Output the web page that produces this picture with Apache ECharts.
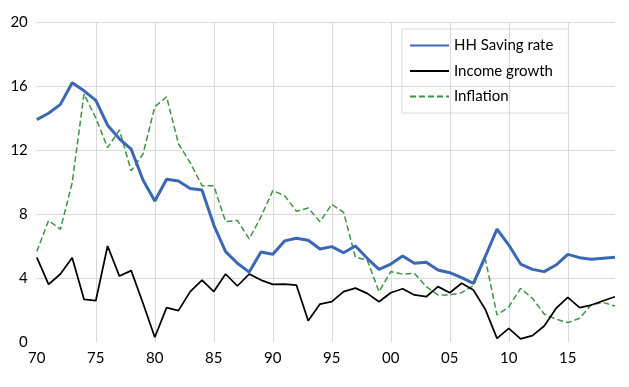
<!DOCTYPE html>
<html>
<head>
<meta charset="utf-8">
<script src="https://cdn.jsdelivr.net/npm/echarts@6/dist/echarts.min.js"></script>
<style>
html,body{margin:0;padding:0;background:#fff;}
#chart{width:629px;height:387px;}
</style>
</head>
<body>
<div id="chart"></div>
<script>
const years = [1970,1971,1972,1973,1974,1975,1976,1977,1978,1979,1980,1981,1982,1983,1984,1985,1986,1987,1988,1989,1990,1991,1992,1993,1994,1995,1996,1997,1998,1999,2000,2001,2002,2003,2004,2005,2006,2007,2008,2009,2010,2011,2012,2013,2014,2015,2016,2017,2018,2019];
const savingRate = [13.9,14.3,14.85,16.2,15.7,15.1,13.55,12.7,12.05,10.13,8.81,10.17,10.06,9.6,9.5,7.31,5.65,4.92,4.37,5.62,5.49,6.32,6.48,6.36,5.81,5.96,5.58,6.0,5.23,4.54,4.87,5.37,4.92,4.98,4.5,4.33,4.02,3.67,5.33,7.06,6.06,4.87,4.54,4.4,4.81,5.48,5.27,5.17,5.23,5.29];
const incomeGrowth = [5.29,3.6,4.25,5.27,2.67,2.58,6.0,4.12,4.46,2.42,0.3,2.15,1.96,3.15,3.87,3.15,4.25,3.5,4.25,3.87,3.6,3.62,3.56,1.33,2.37,2.52,3.15,3.37,3.04,2.52,3.08,3.33,2.94,2.83,3.46,3.08,3.67,3.25,2.05,0.23,0.85,0.19,0.4,1.0,2.1,2.79,2.15,2.31,2.58,2.83];
const inflation = [5.65,7.6,7.04,9.95,15.5,14.0,12.15,13.25,10.7,11.75,14.7,15.33,12.4,11.2,9.77,9.77,7.52,7.6,6.44,7.83,9.46,9.15,8.17,8.38,7.52,8.6,8.1,5.3,5.12,3.15,4.4,4.24,4.3,3.46,2.94,2.94,3.08,3.53,5.23,1.69,2.19,3.35,2.73,1.75,1.43,1.21,1.48,2.34,2.47,2.25];
const yTicks = {min:0, max:20, interval:4};

const chart = echarts.init(document.getElementById('chart'), null, {renderer:'canvas'});
const font = 'Lato';
chart.setOption({
  animation:false,
  backgroundColor:'#ffffff',
  grid:{left:36.8, right:14, top:22, bottom:45, containLabel:false},
  legend:{
    orient:'vertical',
    left:402, top:29,
    padding:[9,15,9,7],
    itemWidth:39, itemHeight:14, itemGap:10.5,
    borderColor:'#D9D9D9', borderWidth:1,
    itemStyle:{opacity:0},
    textStyle:{fontFamily:font, fontSize:15, color:'#000'},
    data:['HH Saving rate','Income growth','Inflation']
  },
  xAxis:{
    type:'category',
    data:years.map(y=>String(y%100).padStart(2,'0')),
    boundaryGap:false,
    axisLine:{show:false},
    axisTick:{show:false},
    axisLabel:{interval:4, margin:9, fontFamily:font, fontSize:15, color:'#000'},
    splitLine:{show:true, interval:function(i){return i%5===0 && i!==0;}, lineStyle:{color:'#D9D9D9', width:1}}
  },
  yAxis:{
    type:'value',
    min:yTicks.min, max:yTicks.max, interval:yTicks.interval,
    axisLine:{show:false},
    axisTick:{show:false},
    axisLabel:{margin:9, fontFamily:font, fontSize:15, color:'#000'},
    splitLine:{show:true, showMinLine:false, lineStyle:{color:'#D9D9D9', width:1}}
  },
  series:[
    {name:'HH Saving rate', type:'line', data:savingRate, symbol:'none', z:3,
     lineStyle:{color:'#3A68B4', width:3}, itemStyle:{color:'#3A68B4'}},
    {name:'Income growth', type:'line', data:incomeGrowth, symbol:'none', z:2,
     lineStyle:{color:'#000000', width:1.75}, itemStyle:{color:'#000000'}},
    {name:'Inflation', type:'line', data:inflation, symbol:'none', z:1,
     lineStyle:{color:'#3D9447', width:1.5, type:[6,3]}, itemStyle:{color:'#3D9447'}}
  ]
});
</script>
</body>
</html>
